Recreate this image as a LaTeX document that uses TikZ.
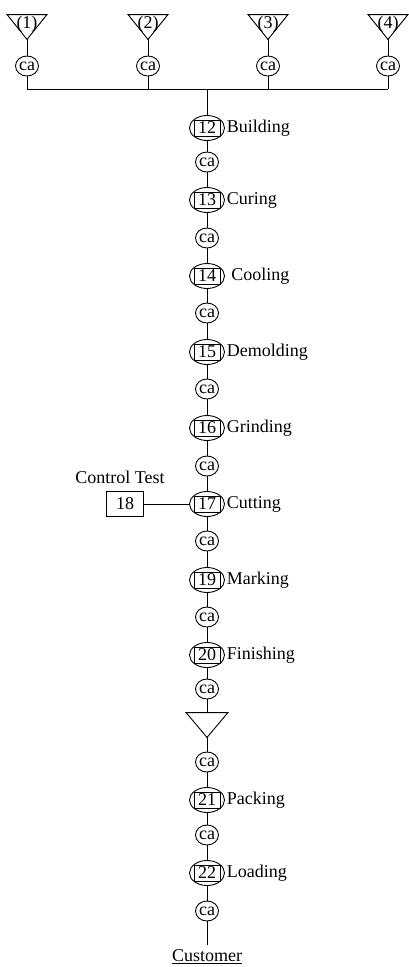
\documentclass[tikz,border=0pt]{standalone}
\usepackage{fontspec}
\setmainfont{Liberation Serif}
\usetikzlibrary{shapes.geometric}

\begin{document}
\begin{tikzpicture}[x=1pt,y=-1pt,line width=0.9pt,font=\fontsize{18}{20}\selectfont,
  ca/.style={draw,ellipse,inner sep=0pt,minimum width=23pt,minimum height=20pt},
  op/.style={draw,ellipse,inner sep=0pt,minimum width=35pt,minimum height=25pt},
  opbox/.style={draw,rectangle,inner sep=0pt,minimum width=26pt,minimum height=16pt},
  oplabel/.style={anchor=west,inner sep=1.5pt},
  store/.style={inner sep=0pt,minimum width=39pt,minimum height=24pt},
  testbox/.style={draw,rectangle,inner sep=0pt,minimum width=37pt,minimum height=25pt}]
  \useasboundingbox (0,0) rectangle (409,967);

  % raw material stores
  \foreach \i/\x in {1/27,2/148,3/268,4/388} {
    \node[store] (s\i) at (\x,27) {};
    \draw (s\i.north west) -- (s\i.north east) -- (s\i.south) -- cycle;
    \node at ([yshift=3pt]s\i.center) {(\i)};
    \node[ca] (c\i) at (\x,66) {ca};
    \coordinate (b\i) at (\x,89);
    \draw (s\i.south) -- (c\i) -- (b\i);
  }
  \draw (b1) -- (b4);
  \coordinate (j) at (207,89);

  % operations
  \foreach \n/\y/\t in {12/128/Building,13/200/Curing,14/276/\ Cooling,15/352/Demolding,
      16/428/Grinding,17/504/Cutting,19/580/Marking,20/655/Finishing,21/800/Packing,22/873/Loading} {
    \node[op] (o\n) at (207,\y) {};
    \node[opbox] at (o\n) {\n};
    \node[oplabel] at (o\n.east) {\t};
  }

  % transport
  \foreach \k/\y in {1/162,2/238,3/313,4/389,5/466,6/541,7/617,8/689,9/762,10/835,11/911} {
    \node[ca] (k\k) at (207,\y) {ca};
  }

  % storage before packing
  \node[store,minimum width=41pt] (t) at (207,725) {};
  \draw (t.north west) -- (t.north east) -- (t.south) -- cycle;

  % control test
  \node[testbox] (t18) at (125,504) {18};
  \node (ctl) at (120,477) {Control Test};
  \draw (t18) -- (o17);

  \coordinate (end) at (207,945);
  \node (cust) at (207,957) {\underline{Customer}};

  \draw (j) -- (o12) -- (k1) -- (o13) -- (k2) -- (o14) -- (k3) -- (o15) -- (k4)
    -- (o16) -- (k5) -- (o17) -- (k6) -- (o19) -- (k7) -- (o20) -- (k8);
  \draw (k8) -- (t.north);
  \draw (t.south) -- (k9) -- (o21) -- (k10) -- (o22) -- (k11) -- (end);
\end{tikzpicture}
\end{document}
